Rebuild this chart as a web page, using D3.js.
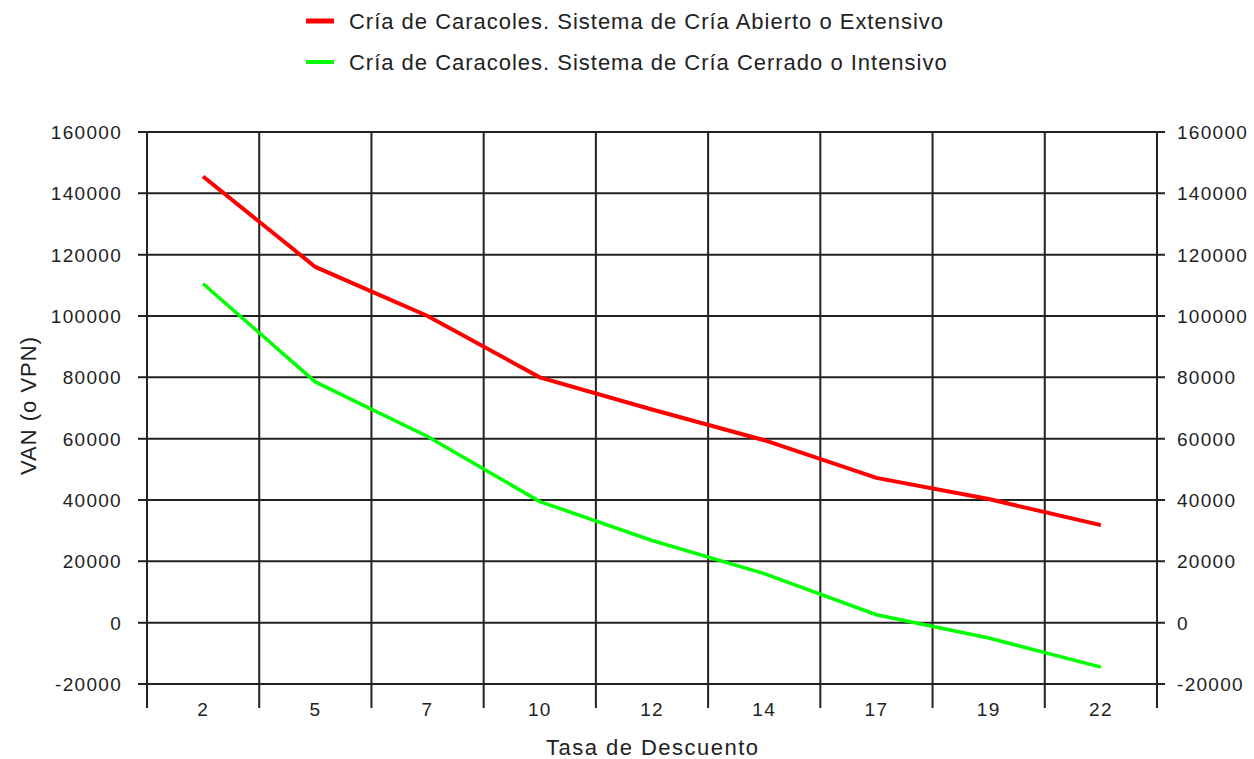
<!DOCTYPE html>
<html lang="es">
<head>
    <meta charset="utf-8">
    <style>
        body { margin: 0; background: #fff; }
        svg { width: 1254px; height: 759px; display: block; }
        text { font-family: "Liberation Sans", Arial, sans-serif; fill: #222; }
    </style>
</head>
<body>
    <svg></svg>
    <script src="https://cdn.jsdelivr.net/npm/d3@7/dist/d3.min.js"></script>
    <script>
        /************************************************************************************
        * Data
        ************************************************************************************/
        const rates = ["2", "5", "7", "10", "12", "14", "17", "19", "22"];
        const abierto = [145500, 116000, 100000, 80000, 69500, 59500, 47200, 40300, 31800];
        const cerrado = [110500, 78500, 60700, 39500, 26800, 16000, 2600, -5000, -14500];
        const yTicks = [-20000, 0, 20000, 40000, 60000, 80000, 100000, 120000, 140000, 160000];
        const seriesNames = [
            "Cría de Caracoles. Sistema de Cría Abierto o Extensivo",
            "Cría de Caracoles. Sistema de Cría Cerrado o Intensivo"
        ];
        const seriesColors = ["#ff0000", "#00ff00"];

        const svg = d3.select("svg");

        // Plot frame
        const plotLeft = 147, plotRight = 1157, plotTop = 132, plotBottom = 684;

        const x = d3.scaleBand().domain(rates).range([plotLeft, plotRight]).padding(0);
        const y = d3.scaleLinear().domain([-20000, 160000]).range([plotBottom, plotTop]);

        /************************************************************************************
        * Grid
        ************************************************************************************/
        const grid = svg.append("g").attr("stroke", "#222").attr("stroke-width", 2);

        // Horizontal lines, running past both axes as tick marks
        grid.selectAll(".h").data(yTicks).enter()
            .append("line").attr("class", "h")
            .attr("x1", plotLeft - 9).attr("x2", plotRight + 8)
            .attr("y1", d => y(d)).attr("y2", d => y(d));

        // Vertical lines at band edges, running below the plot as tick marks
        const edges = rates.map(r => x(r)).concat([plotRight]);
        grid.selectAll(".v").data(edges).enter()
            .append("line").attr("class", "v")
            .attr("x1", d => d).attr("x2", d => d)
            .attr("y1", plotTop).attr("y2", plotBottom + 24);

        /************************************************************************************
        * Axis labels
        ************************************************************************************/
        const tickFont = { size: 19, spacing: 1.3 };

        svg.append("g").selectAll("text").data(yTicks).enter()
            .append("text")
            .attr("x", plotLeft - 25).attr("y", d => y(d) + 7)
            .attr("text-anchor", "end")
            .style("font-size", tickFont.size + "px").style("letter-spacing", tickFont.spacing + "px")
            .text(d => d);

        svg.append("g").selectAll("text").data(yTicks).enter()
            .append("text")
            .attr("x", plotRight + 20).attr("y", d => y(d) + 7)
            .style("font-size", tickFont.size + "px").style("letter-spacing", tickFont.spacing + "px")
            .text(d => d);

        svg.append("g").selectAll("text").data(rates).enter()
            .append("text")
            .attr("x", d => x(d) + x.bandwidth() / 2).attr("y", 716)
            .attr("text-anchor", "middle")
            .style("font-size", tickFont.size + "px").style("letter-spacing", tickFont.spacing + "px")
            .text(d => d);

        svg.append("text")
            .attr("x", 652).attr("y", 755)
            .attr("text-anchor", "middle")
            .attr("textLength", 212).attr("lengthAdjust", "spacing")
            .style("font-size", "22px")
            .text("Tasa de Descuento");

        svg.append("text")
            .attr("transform", "translate(36, 406) rotate(-90)")
            .attr("text-anchor", "middle")
            .attr("textLength", 138).attr("lengthAdjust", "spacing")
            .style("font-size", "22px")
            .text("VAN (o VPN)");

        /************************************************************************************
        * Lines
        ************************************************************************************/
        const line = d3.line()
            .x((d, i) => x(rates[i]) + x.bandwidth() / 2)
            .y(d => y(d));

        [abierto, cerrado].forEach((values, i) => {
            svg.append("path")
                .attr("d", line(values))
                .attr("fill", "none")
                .attr("stroke", seriesColors[i])
                .attr("stroke-width", i === 0 ? 4 : 3.5)
                .attr("stroke-linejoin", "miter");
        });

        /************************************************************************************
        * Legend
        ************************************************************************************/
        // The legend box cuts its text off on the right
        svg.append("defs").append("clipPath").attr("id", "legend-clip")
            .append("rect").attr("x", 290).attr("y", 0).attr("width", 656).attr("height", 90);

        const legend = svg.append("g").attr("clip-path", "url(#legend-clip)");
        const rowY = [21, 62];

        legend.selectAll("line").data(seriesNames).enter()
            .append("line")
            .attr("x1", 306).attr("x2", 334)
            .attr("y1", (d, i) => rowY[i]).attr("y2", (d, i) => rowY[i])
            .attr("stroke", (d, i) => seriesColors[i])
            .attr("stroke-width", (d, i) => i === 0 ? 5 : 4);

        const labels = legend.selectAll("text").data(seriesNames).enter()
            .append("text")
            .attr("x", 349).attr("y", (d, i) => rowY[i] + 8)
            .style("font-size", "22px")
            .text(d => d);

        // Spread letters so the first label ends where the original does
        const natural = labels.node().getComputedTextLength();
        const spacing = (594 - natural) / (seriesNames[0].length - 1);
        labels.style("letter-spacing", spacing + "px");
    </script>
</body>
</html>
